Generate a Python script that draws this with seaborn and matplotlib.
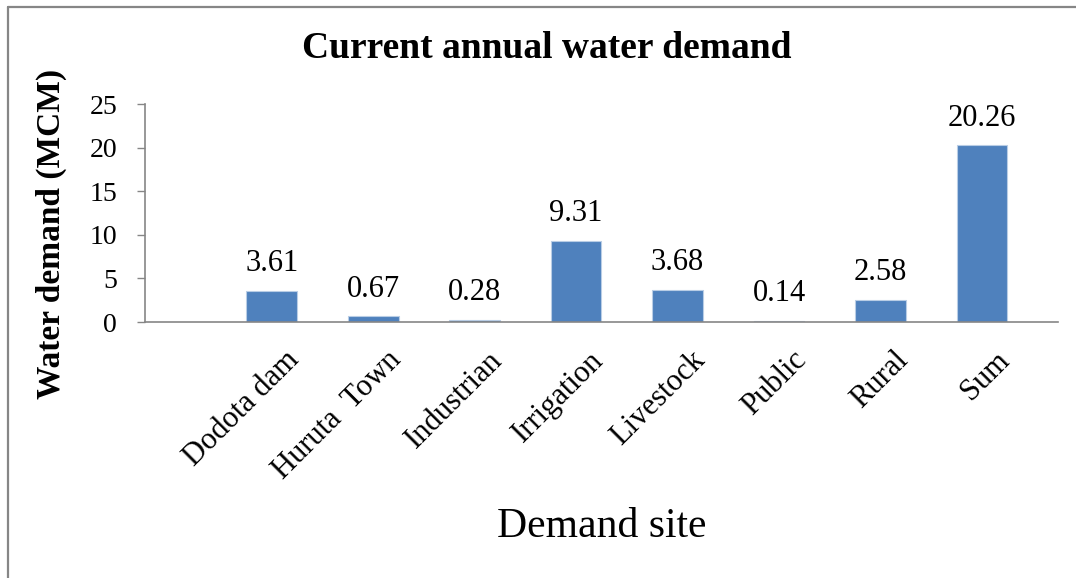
import matplotlib
matplotlib.use("Agg")
import matplotlib.pyplot as plt
import matplotlib.transforms as mtransforms
from matplotlib.lines import Line2D
import seaborn as sns
import pandas as pd

categories = ["Dodota dam", "Huruta  Town", "Industrian", "Irrigation",
              "Livestock", "Public", "Rural", "Sum"]
values = [3.61, 0.67, 0.28, 9.31, 3.68, 0.14, 2.58, 20.26]
series_names = ["Current", "Blank"]
y_ticks = [0, 5, 10, 15, 20, 25]

sns.set_style("white")
plt.rcParams["font.family"] = ["Liberation Serif", "DejaVu Serif"]
plt.rcParams["text.color"] = "black"
plt.rcParams["axes.labelcolor"] = "black"
plt.rcParams["xtick.color"] = "black"
plt.rcParams["ytick.color"] = "black"

df = pd.DataFrame({"site": categories, "demand": values,
                   "series": [series_names[0]] * len(categories)})

fig = plt.figure(figsize=(10.76, 5.78), dpi=100)
ax = fig.add_axes([145 / 1076, 1 - 322 / 578, (1058 - 145) / 1076, (322 - 104) / 578])

sns.barplot(data=df, x="site", y="demand", hue="series", hue_order=series_names,
            order=categories, palette={"Current": "#4F81BD", "Blank": "#C0504D"},
            width=1.0, gap=0, dodge=True, legend=False, ax=ax, saturation=1,
            edgecolor="#B9CDE5", linewidth=0.8, errorbar=None)

for cont in ax.containers:
    ax.bar_label(cont, fmt="%.2f", padding=9, fontsize=22, color="black")

ax.set_xlim(-1.5, len(categories) - 0.5)
ax.set_ylim(0, 25)
ax.set_yticks(y_ticks)
ax.set_yticklabels([str(t) for t in y_ticks], fontsize=20)

ax.set_xticks(range(len(categories)))
ax.tick_params(axis="x", length=0, pad=17)
ax.tick_params(axis="y", length=6, width=1, color="#868686", labelcolor="black",
               pad=14, direction="out", left=True)
ax.set_xticklabels(categories, rotation=45, ha="right", va="top", fontsize=22)
offset = mtransforms.ScaledTranslation(8 / 100, 0, fig.dpi_scale_trans)
for lbl in ax.get_xticklabels():
    lbl.set_transform(lbl.get_transform() + offset)

for s in ["top", "right"]:
    ax.spines[s].set_visible(False)
for s in ["left", "bottom"]:
    ax.spines[s].set_color("#868686")
    ax.spines[s].set_linewidth(1.2)

ax.set_ylabel("Water demand (MCM)", fontsize=24, fontweight="bold", color="black")
ax.yaxis.label.set_va("center")
ax.yaxis.set_label_coords((51 - 145) / 913, (322 - 234) / 218)
ax.set_xlabel("Demand site", fontsize=30, color="black")
ax.xaxis.label.set_va("center")
ax.xaxis.set_label_coords(0.5, (322 - 527) / 218)

fig.text(547 / 1076, 1 - 49 / 578, "Current annual water demand", fontsize=27,
         fontweight="bold", ha="center", va="center", color="black")

# outer border (top and left visible)
fig.add_artist(Line2D([7.5 / 1076, 7.5 / 1076], [0, 1 - 6.5 / 578], color="#868686", lw=1.6,
                      transform=fig.transFigure))
fig.add_artist(Line2D([7.5 / 1076, 1], [1 - 6.5 / 578, 1 - 6.5 / 578], color="#868686", lw=1.6,
                      transform=fig.transFigure))

fig.savefig("out.png", dpi=100)
